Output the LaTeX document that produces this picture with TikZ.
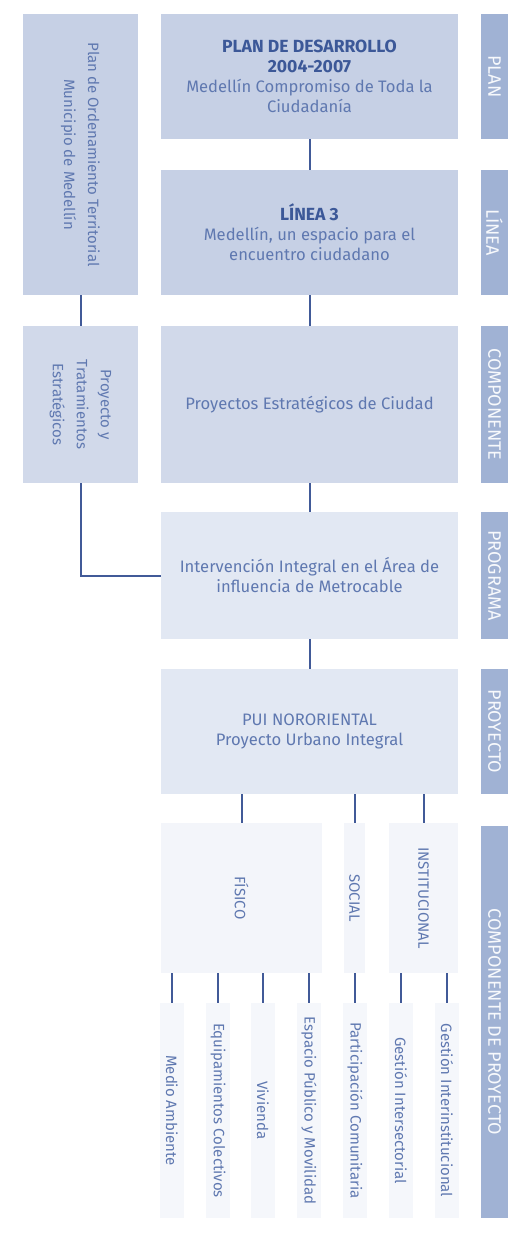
\documentclass[tikz,border=0pt]{standalone}
\usepackage{fontspec}
\setmainfont{Fira Sans}
\usepackage{tikz}
\usetikzlibrary{positioning, calc}
\definecolor{puiDark}{RGB}{198,208,229}
\definecolor{puiMid}{RGB}{209,217,234}
\definecolor{puiLight}{RGB}{226,232,243}
\definecolor{puiPale}{RGB}{243,245,250}
\definecolor{puiTag}{RGB}{160,178,212}
\definecolor{puiInk}{RGB}{60,88,152}
\definecolor{puiText}{RGB}{95,120,176}
\definecolor{puiLine}{RGB}{65,90,152}
\newcommand{\puiTitle}[1]{\textcolor{puiInk}{\fontsize{8.8}{10}\selectfont\bfseries #1}}

\begin{document}
\begin{tikzpicture}[x=0.5pt, y=-0.5pt,
    stage/.style={inner sep=2pt, align=center, text=puiText, minimum width=148.5pt,
      font=\fontsize{8.3}{10}\selectfont},
    side/.style={rotate=-90, inner sep=2pt, align=center, text=puiText, minimum height=57.5pt,
      font=\fontsize{7.5}{12}\selectfont},
    part/.style={rotate=-90, inner sep=1pt, fill=puiPale, text=puiText, minimum width=75pt,
      font=\fontsize{7.5}{9}\selectfont},
    leaf/.style={rotate=-90, inner sep=1pt, fill=puiPale!80, text=puiText, minimum width=107.5pt,
      minimum height=12pt, font=\fontsize{7.5}{9}\selectfont},
    tag/.style={rotate=-90, inner sep=0pt, fill=puiTag, text=white!92!puiTag, minimum height=13.5pt,
      font=\fontsize{9}{10}\selectfont},
    link/.style={draw=puiLine, line width=1pt}
  ]
  \useasboundingbox[fill=white] (0,0) rectangle (508,1235);

  \node[side, fill=puiDark, minimum width=140.5pt] (pot) at (80.5,154.5)
    {Plan de Ordenamiento Territorial\\Municipio de Medellín};
  \node[side, fill=puiMid, minimum width=78.5pt] (ptr) at (80.5,404.5)
    {Proyecto y\\Tratamientos\\Estratégicos};

  \node[stage, fill=puiDark, minimum height=62.5pt] (plan) at (309.5,76.5)
    {\puiTitle{PLAN DE DESARROLLO}\\\puiTitle{2004-2007}\\Medellín Compromiso de Toda la\\Ciudadanía};
  \node[stage, fill=puiDark, minimum height=62.5pt] (linea) at (309.5,232.5)
    {\puiTitle{LÍNEA 3}\\Medellín, un espacio para el\\encuentro ciudadano};
  \node[stage, fill=puiMid, minimum height=78.5pt] (comp) at (309.5,404.5)
    {Proyectos Estratégicos de Ciudad};
  \node[stage, fill=puiLight, minimum height=63.5pt] (prog) at (309.5,575.5)
    {Intervención Integral en el Área de\\influencia de Metrocable};
  \node[stage, fill=puiLight, minimum height=62.5pt] (proy) at (309.5,731.5)
    {PUI NORORIENTAL\\Proyecto Urbano Integral};

  \node[part, minimum height=80.5pt] (fis) at (241.5,898) {FÍSICO};
  \node[part, minimum height=10.5pt] (soc) at (354.5,898) {SOCIAL};
  \node[part, minimum height=34.5pt] (ins) at (423.5,898) {INSTITUCIONAL};

  \draw[link] (plan) -- (linea);
  \draw[link] (linea) -- (comp);
  \draw[link] (comp) -- (prog);
  \draw[link] (prog) -- (proy);
  \draw[link] (pot) -- (ptr);
  \draw[link] (ptr.east) |- (prog.west);
  \draw[link] (fis |- proy.south) -- (fis);
  \draw[link] (soc |- proy.south) -- (soc);
  \draw[link] (ins |- proy.south) -- (ins);

  \foreach \x/\name/\txt in {172/ma/Medio Ambiente, 218/ec/Equipamientos Colectivos,
      263/vi/Vivienda, 309/ep/Espacio Público y Movilidad, 355/pc/Participación Comunitaria,
      401/gs/Gestión Intersectorial, 447/gi/Gestión Interinstitucional} {
    \node[leaf] (\name) at (\x,1110.5) {\txt};
    \draw[link] (\name |- fis.east) -- (\name);
  }

  \foreach \y/\h/\txt [count=\i] in {76.5/62.5/PLAN, 232.5/62.5/LÍNEA, 404.5/78.5/COMPONENTE,
      575.5/63.5/PROGRAMA, 731.5/62.5/PROYECTO, 1022/196/COMPONENTE DE PROYECTO} {
    \node[tag, minimum width=\h pt] (tag\i) at (494.5,\y) {\txt};
  }
\end{tikzpicture}
\end{document}
